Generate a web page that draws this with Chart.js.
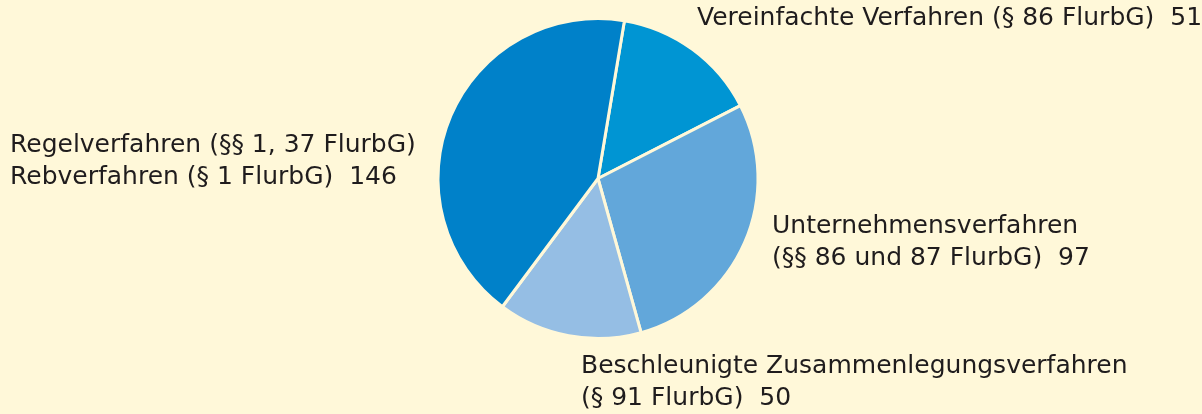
<!DOCTYPE html>
<html>
<head>
<meta charset="utf-8">
<script src="https://cdn.jsdelivr.net/npm/chart.js@4"></script>
<style>
    html, body { margin: 0; padding: 0; background: #fff8d9; }
    #wrap { width: 1202px; height: 414px; position: relative; }
</style>
</head>
<body>
<div id="wrap"><canvas id="verfahren-chart"></canvas></div>
<script>
const categories = [
    ["Vereinfachte Verfahren (§ 86 FlurbG)"],
    ["Unternehmensverfahren", "(§§ 86 und 87 FlurbG)"],
    ["Beschleunigte Zusammenlegungsverfahren", "(§ 91 FlurbG)"],
    ["Regelverfahren (§§ 1, 37 FlurbG)", "Rebverfahren (§ 1 FlurbG)"]
];
const counts = [51, 97, 50, 146];
const sliceColors = ["#0095d3", "#62a7da", "#95bee4", "#0081c9"];

// where each label block starts (left x, first baseline)
const labelAnchors = [[697, 25], [772, 233], [581, 373], [10, 152]];

const canvas = document.querySelector("#verfahren-chart");

const labelPlugin = {
    id: "sliceLabels",
    afterDraw(chart) {
        const ctx = chart.ctx;
        ctx.save();
        ctx.font = "25px 'DejaVu Sans'";
        ctx.fillStyle = "#1f1c1d";
        ctx.textBaseline = "alphabetic";
        ctx.textAlign = "left";
        chart.data.labels.forEach((lines, i) => {
            const [x, y] = labelAnchors[i];
            lines.forEach((line, j) => {
                let text = line;
                if (j === lines.length - 1) {
                    text = line + "  " + chart.data.datasets[0].data[i];
                }
                ctx.fillText(text, x, y + j * 31.5);
            });
        });
        ctx.restore();
    }
};

const pieConfig = {
    type: "pie",
    data: {
        labels: categories,
        datasets: [{
            data: counts,
            backgroundColor: sliceColors,
            borderColor: "#fff8d9",
            borderWidth: 3,
        }]
    },
    options: {
        responsive: true,
        maintainAspectRatio: false,
        animation: false,
        rotation: 9.5,
        layout: {
            padding: { top: 17, bottom: 74, left: 436, right: 442 }
        },
        plugins: {
            legend: { display: false },
            tooltip: { enabled: false }
        }
    },
    plugins: [labelPlugin]
};

const verfahrenChart = new Chart(canvas, pieConfig);
</script>
</body>
</html>
